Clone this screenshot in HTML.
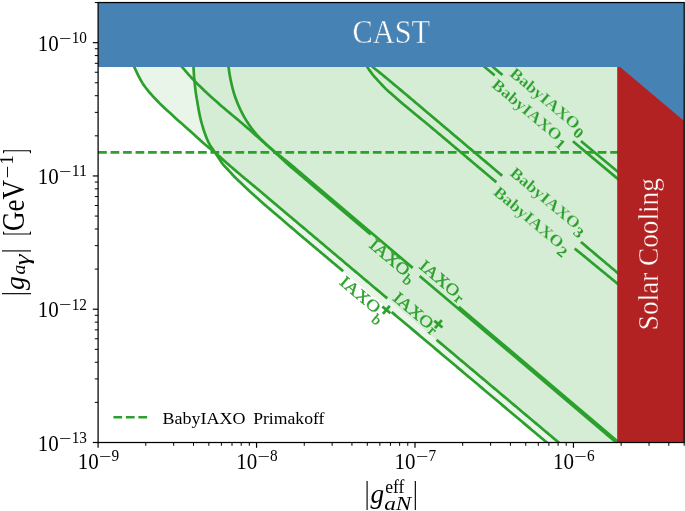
<!DOCTYPE html>
<html lang="en"><head><meta charset="utf-8"><title>plot</title>
<style>html,body{margin:0;padding:0;background:#fff;overflow:hidden}svg{display:block}</style></head>
<body>
<svg width="685" height="511" viewBox="0 0 685 511">
<rect width="685" height="511" fill="#ffffff"/>
<defs><clipPath id="ax"><rect x="98.1" y="2.55" width="586.1" height="439.95"/></clipPath></defs>
<g clip-path="url(#ax)">
<path d="M133.20 64.50 L133.30 64.74 L133.39 64.95 L133.47 65.15 L133.56 65.36 L133.65 65.59 L133.77 65.86 L133.92 66.19 L134.10 66.60 L134.32 67.10 L134.58 67.67 L134.87 68.30 L135.18 68.97 L135.50 69.67 L135.83 70.39 L136.17 71.10 L136.50 71.80 L136.83 72.49 L137.16 73.18 L137.50 73.87 L137.84 74.58 L138.20 75.30 L138.58 76.04 L138.98 76.81 L139.40 77.60 L139.84 78.42 L140.30 79.27 L140.77 80.15 L141.26 81.04 L141.78 81.94 L142.32 82.86 L142.89 83.78 L143.50 84.70 L144.14 85.63 L144.82 86.56 L145.53 87.51 L146.27 88.46 L147.03 89.42 L147.81 90.38 L148.60 91.34 L149.40 92.30 L150.21 93.25 L151.04 94.21 L151.89 95.16 L152.75 96.11 L153.63 97.07 L154.53 98.04 L155.46 99.01 L156.40 100.00 L157.38 101.01 L158.41 102.06 L159.47 103.12 L160.55 104.18 L161.63 105.23 L162.69 106.26 L163.72 107.26 L164.70 108.20 L165.64 109.09 L166.57 109.95 L167.47 110.78 L168.35 111.57 L169.21 112.35 L170.06 113.11 L170.89 113.86 L171.70 114.60 L172.50 115.33 L173.29 116.06 L174.06 116.77 L174.81 117.46 L175.55 118.14 L176.26 118.79 L176.94 119.41 L177.60 120.00 L178.17 120.51 L178.64 120.91 L179.05 121.26 L179.45 121.59 L179.90 121.97 L180.44 122.43 L181.12 123.02 L182.00 123.80 L183.10 124.77 L184.37 125.91 L185.78 127.17 L187.29 128.53 L188.85 129.93 L190.44 131.35 L192.00 132.75 L193.50 134.10 L194.98 135.43 L196.48 136.79 L198.00 138.18 L199.51 139.56 L201.02 140.92 L202.49 142.24 L203.92 143.51 L205.30 144.70 L206.63 145.82 L207.94 146.89 L209.22 147.91 L210.47 148.88 L211.67 149.83 L212.83 150.74 L213.94 151.63 L215.00 152.50 L215.98 153.34 L216.89 154.14 L217.75 154.90 L218.56 155.63 L219.35 156.36 L220.13 157.08 L220.93 157.81 L221.75 158.55 L222.59 159.30 L223.42 160.05 L224.24 160.80 L225.07 161.55 L225.90 162.30 L226.75 163.06 L227.61 163.82 L228.50 164.60 L229.41 165.39 L230.35 166.19 L231.30 167.00 L232.27 167.82 L233.24 168.64 L234.22 169.46 L235.19 170.28 L236.15 171.10 L237.10 171.91 L238.06 172.72 L239.01 173.53 L239.96 174.34 L240.91 175.16 L241.87 175.97 L242.83 176.78 L243.80 177.60 L244.78 178.42 L245.77 179.24 L246.76 180.07 L247.76 180.89 L248.76 181.72 L249.76 182.55 L250.75 183.37 L251.75 184.20 L252.74 185.02 L253.73 185.84 L254.72 186.66 L255.70 187.47 L256.69 188.29 L257.69 189.12 L258.69 189.95 L259.70 190.80 L260.72 191.66 L261.75 192.53 L262.79 193.41 L263.83 194.30 L264.87 195.19 L265.92 196.08 L266.96 196.97 L268.00 197.85 L269.04 198.73 L270.07 199.61 L271.10 200.49 L272.13 201.37 L273.17 202.25 L274.21 203.13 L275.25 204.01 L276.30 204.90 L277.36 205.79 L278.42 206.69 L279.49 207.59 L280.56 208.49 L281.63 209.39 L282.71 210.30 L283.78 211.20 L284.85 212.10 L285.90 212.98 L286.92 213.85 L287.93 214.70 L288.95 215.55 L289.99 216.43 L291.07 217.34 L292.20 218.29 L293.40 219.30 L294.68 220.38 L296.04 221.52 L297.44 222.71 L298.89 223.92 L300.35 225.16 L301.83 226.40 L303.29 227.63 L304.72 228.84 L306.13 230.03 L307.55 231.22 L308.96 232.42 L310.38 233.61 L311.79 234.80 L313.21 235.99 L314.62 237.19 L316.04 238.38 L317.45 239.57 L318.87 240.76 L320.28 241.96 L321.70 243.15 L323.12 244.34 L324.53 245.54 L325.94 246.73 L327.36 247.92 L328.78 249.11 L330.19 250.31 L331.61 251.50 L333.02 252.69 L334.43 253.88 L335.85 255.07 L337.26 256.27 L338.68 257.46 L340.09 258.65 L341.50 259.84 L342.91 261.03 L344.32 262.22 L345.74 263.41 L347.15 264.60 L348.57 265.80 L350.00 267.00 L351.43 268.21 L352.87 269.42 L354.32 270.63 L355.77 271.85 L357.22 273.07 L358.67 274.29 L360.12 275.51 L361.57 276.73 L363.01 277.94 L364.46 279.16 L365.90 280.38 L367.35 281.59 L368.80 282.81 L370.24 284.02 L371.69 285.24 L373.13 286.46 L374.58 287.67 L376.02 288.89 L377.47 290.10 L378.92 291.32 L380.36 292.54 L381.81 293.75 L383.25 294.97 L384.70 296.18 L386.15 297.40 L387.59 298.62 L389.04 299.83 L390.48 301.05 L391.93 302.26 L393.37 303.48 L394.82 304.70 L396.27 305.91 L397.71 307.13 L399.16 308.34 L400.60 309.56 L402.05 310.77 L403.50 311.99 L404.94 313.21 L406.39 314.42 L407.83 315.64 L409.28 316.85 L410.73 318.07 L412.17 319.29 L413.62 320.50 L415.06 321.72 L416.51 322.93 L417.95 324.15 L419.40 325.37 L420.85 326.58 L422.29 327.80 L423.74 329.01 L425.18 330.23 L426.63 331.45 L428.08 332.66 L429.52 333.88 L430.97 335.09 L432.41 336.31 L433.86 337.53 L435.30 338.74 L436.75 339.96 L438.20 341.17 L439.64 342.39 L441.09 343.61 L442.53 344.82 L443.98 346.04 L445.43 347.25 L446.87 348.47 L448.32 349.69 L449.76 350.90 L451.21 352.12 L452.65 353.33 L454.10 354.55 L455.55 355.77 L456.99 356.98 L458.44 358.20 L459.88 359.41 L461.33 360.63 L462.78 361.85 L464.22 363.06 L465.67 364.28 L467.11 365.49 L468.56 366.71 L470.00 367.93 L471.45 369.14 L472.90 370.36 L474.34 371.57 L475.79 372.79 L477.23 374.01 L478.68 375.22 L480.12 376.44 L481.57 377.65 L483.02 378.87 L484.46 380.09 L485.91 381.30 L487.35 382.52 L488.80 383.73 L490.25 384.95 L491.69 386.17 L493.14 387.38 L494.58 388.60 L496.03 389.81 L497.48 391.03 L498.92 392.25 L500.37 393.46 L501.81 394.68 L503.26 395.89 L504.70 397.11 L506.15 398.32 L507.60 399.54 L509.04 400.76 L510.49 401.97 L511.93 403.19 L513.38 404.40 L514.83 405.62 L516.27 406.84 L517.72 408.05 L519.16 409.27 L520.61 410.48 L522.05 411.70 L523.50 412.92 L524.95 414.13 L526.39 415.35 L527.84 416.56 L529.28 417.78 L530.73 419.00 L532.17 420.21 L533.62 421.43 L535.07 422.64 L536.51 423.86 L537.96 425.08 L539.40 426.29 L540.85 427.51 L542.30 428.72 L543.74 429.94 L545.19 431.16 L546.63 432.37 L548.13 433.63 L549.71 434.96 L551.31 436.31 L552.90 437.64 L554.43 438.93 L555.85 440.13 L557.13 441.20 L558.20 442.10 L559.05 442.81 L559.70 443.36 L560.19 443.78 L560.59 444.11 L560.92 444.39 L561.23 444.65 L561.58 444.94 L562.00 445.30 L619.20 446.00 L619.20 60.00Z" fill="#2ca02c" fill-opacity="0.1"/>
<path d="M193.45 64.00 L193.45 64.29 L193.45 64.54 L193.45 64.76 L193.45 65.00 L193.46 65.27 L193.46 65.61 L193.48 66.05 L193.50 66.60 L193.53 67.30 L193.57 68.15 L193.62 69.08 L193.67 70.09 L193.73 71.12 L193.78 72.14 L193.84 73.11 L193.90 74.00 L193.96 74.80 L194.01 75.55 L194.07 76.26 L194.12 76.96 L194.19 77.67 L194.25 78.39 L194.32 79.16 L194.40 80.00 L194.48 80.91 L194.57 81.88 L194.67 82.88 L194.77 83.92 L194.87 84.96 L194.98 86.00 L195.09 87.02 L195.20 88.00 L195.32 88.96 L195.44 89.91 L195.56 90.85 L195.69 91.79 L195.82 92.70 L195.95 93.60 L196.07 94.46 L196.20 95.30 L196.32 96.08 L196.44 96.80 L196.56 97.47 L196.67 98.14 L196.80 98.81 L196.92 99.51 L197.06 100.27 L197.20 101.10 L197.35 102.01 L197.51 102.96 L197.66 103.95 L197.83 104.98 L198.01 106.05 L198.19 107.14 L198.39 108.26 L198.60 109.40 L198.82 110.57 L199.05 111.76 L199.28 112.99 L199.52 114.24 L199.79 115.52 L200.07 116.82 L200.37 118.15 L200.70 119.50 L201.05 120.89 L201.43 122.31 L201.82 123.77 L202.24 125.25 L202.67 126.74 L203.13 128.24 L203.60 129.73 L204.10 131.20 L204.62 132.68 L205.15 134.17 L205.70 135.68 L206.27 137.18 L206.87 138.67 L207.49 140.12 L208.13 141.54 L208.80 142.90 L209.49 144.19 L210.21 145.41 L210.95 146.58 L211.72 147.73 L212.51 148.87 L213.32 150.03 L214.15 151.23 L215.00 152.50 L215.89 153.86 L216.84 155.32 L217.82 156.83 L218.82 158.35 L219.81 159.84 L220.79 161.28 L221.72 162.61 L222.60 163.80 L223.42 164.84 L224.19 165.75 L224.94 166.57 L225.66 167.33 L226.36 168.04 L227.06 168.75 L227.77 169.48 L228.50 170.25 L229.23 171.05 L229.95 171.86 L230.66 172.66 L231.38 173.46 L232.10 174.26 L232.84 175.07 L233.61 175.88 L234.40 176.70 L235.23 177.53 L236.08 178.37 L236.96 179.21 L237.85 180.06 L238.76 180.91 L239.66 181.76 L240.56 182.60 L241.45 183.45 L242.33 184.29 L243.19 185.13 L244.06 185.97 L244.93 186.81 L245.80 187.65 L246.68 188.49 L247.58 189.34 L248.50 190.20 L249.44 191.06 L250.40 191.93 L251.37 192.81 L252.35 193.68 L253.34 194.56 L254.33 195.44 L255.32 196.32 L256.30 197.20 L257.27 198.07 L258.23 198.94 L259.18 199.80 L260.13 200.67 L261.10 201.53 L262.08 202.41 L263.07 203.30 L264.10 204.20 L265.16 205.12 L266.24 206.05 L267.34 206.99 L268.46 207.94 L269.59 208.89 L270.71 209.85 L271.84 210.80 L272.95 211.75 L274.05 212.69 L275.16 213.63 L276.26 214.57 L277.36 215.51 L278.46 216.45 L279.57 217.39 L280.68 218.34 L281.80 219.30 L282.93 220.27 L284.07 221.24 L285.21 222.22 L286.36 223.21 L287.51 224.19 L288.66 225.18 L289.80 226.17 L290.95 227.15 L292.09 228.13 L293.21 229.09 L294.33 230.06 L295.45 231.02 L296.58 231.99 L297.73 232.98 L298.90 233.98 L300.10 235.00 L301.34 236.05 L302.60 237.12 L303.89 238.20 L305.20 239.30 L306.52 240.40 L307.83 241.51 L309.15 242.61 L310.45 243.70 L311.74 244.79 L313.04 245.88 L314.33 246.96 L315.63 248.05 L316.92 249.14 L318.21 250.22 L319.51 251.31 L320.80 252.40 L322.09 253.49 L323.39 254.58 L324.68 255.66 L325.98 256.75 L327.27 257.84 L328.56 258.93 L329.86 260.01 L331.15 261.10 L332.43 262.18 L333.70 263.24 L334.96 264.30 L336.22 265.36 L337.49 266.43 L338.79 267.52 L340.13 268.64 L341.50 269.80 L342.92 271.00 L344.39 272.23 L345.89 273.50 L347.42 274.78 L348.95 276.07 L350.50 277.37 L352.03 278.66 L353.55 279.94 L355.05 281.20 L356.56 282.47 L358.06 283.74 L359.57 285.00 L361.08 286.27 L362.58 287.54 L364.09 288.80 L365.59 290.07 L367.10 291.34 L368.61 292.60 L370.11 293.87 L371.62 295.14 L373.12 296.41 L374.63 297.67 L376.14 298.94 L377.64 300.21 L379.15 301.47 L380.65 302.74 L382.16 304.01 L383.66 305.27 L385.17 306.54 L386.68 307.81 L388.18 309.07 L389.69 310.34 L391.19 311.61 L392.70 312.88 L394.21 314.14 L395.71 315.41 L397.22 316.68 L398.72 317.94 L400.23 319.21 L401.74 320.48 L403.24 321.74 L404.75 323.01 L406.25 324.28 L407.76 325.54 L409.26 326.81 L410.77 328.08 L412.28 329.34 L413.78 330.61 L415.29 331.88 L416.79 333.15 L418.30 334.41 L419.81 335.68 L421.31 336.95 L422.82 338.21 L424.32 339.48 L425.83 340.75 L427.34 342.01 L428.84 343.28 L430.35 344.55 L431.85 345.81 L433.36 347.08 L434.86 348.35 L436.37 349.62 L437.88 350.88 L439.38 352.15 L440.89 353.42 L442.39 354.68 L443.90 355.95 L445.41 357.22 L446.91 358.48 L448.42 359.75 L449.92 361.02 L451.43 362.28 L452.94 363.55 L454.44 364.82 L455.95 366.09 L457.45 367.35 L458.96 368.62 L460.46 369.89 L461.97 371.15 L463.48 372.42 L464.98 373.69 L466.49 374.95 L467.99 376.22 L469.50 377.49 L471.01 378.75 L472.51 380.02 L474.02 381.29 L475.52 382.56 L477.03 383.82 L478.54 385.09 L480.04 386.36 L481.55 387.62 L483.05 388.89 L484.56 390.16 L486.06 391.42 L487.57 392.69 L489.08 393.96 L490.58 395.22 L492.09 396.49 L493.59 397.76 L495.10 399.02 L496.61 400.29 L498.11 401.56 L499.62 402.83 L501.12 404.09 L502.63 405.36 L504.14 406.63 L505.64 407.89 L507.15 409.16 L508.65 410.43 L510.16 411.69 L511.66 412.96 L513.17 414.23 L514.68 415.49 L516.18 416.76 L517.69 418.03 L519.19 419.30 L520.70 420.56 L522.21 421.83 L523.71 423.10 L525.22 424.36 L526.72 425.63 L528.23 426.90 L529.74 428.16 L531.24 429.43 L532.75 430.70 L534.25 431.96 L535.82 433.28 L537.46 434.66 L539.14 436.07 L540.80 437.47 L542.39 438.81 L543.88 440.06 L545.19 441.17 L546.30 442.10 L547.16 442.82 L547.81 443.37 L548.30 443.78 L548.67 444.09 L548.98 444.35 L549.27 444.59 L549.59 444.86 L550.00 445.20 L619.20 446.00 L619.20 60.00Z" fill="#2ca02c" fill-opacity="0.1"/>
<path d="M133.20 64.50 L133.30 64.74 L133.39 64.95 L133.47 65.15 L133.56 65.36 L133.65 65.59 L133.77 65.86 L133.92 66.19 L134.10 66.60 L134.32 67.10 L134.58 67.67 L134.87 68.30 L135.18 68.97 L135.50 69.67 L135.83 70.39 L136.17 71.10 L136.50 71.80 L136.83 72.49 L137.16 73.18 L137.50 73.87 L137.84 74.58 L138.20 75.30 L138.58 76.04 L138.98 76.81 L139.40 77.60 L139.84 78.42 L140.30 79.27 L140.77 80.15 L141.26 81.04 L141.78 81.94 L142.32 82.86 L142.89 83.78 L143.50 84.70 L144.14 85.63 L144.82 86.56 L145.53 87.51 L146.27 88.46 L147.03 89.42 L147.81 90.38 L148.60 91.34 L149.40 92.30 L150.21 93.25 L151.04 94.21 L151.89 95.16 L152.75 96.11 L153.63 97.07 L154.53 98.04 L155.46 99.01 L156.40 100.00 L157.38 101.01 L158.41 102.06 L159.47 103.12 L160.55 104.18 L161.63 105.23 L162.69 106.26 L163.72 107.26 L164.70 108.20 L165.64 109.09 L166.57 109.95 L167.47 110.78 L168.35 111.57 L169.21 112.35 L170.06 113.11 L170.89 113.86 L171.70 114.60 L172.50 115.33 L173.29 116.06 L174.06 116.77 L174.81 117.46 L175.55 118.14 L176.26 118.79 L176.94 119.41 L177.60 120.00 L178.17 120.51 L178.64 120.91 L179.05 121.26 L179.45 121.59 L179.90 121.97 L180.44 122.43 L181.12 123.02 L182.00 123.80 L183.10 124.77 L184.37 125.91 L185.78 127.17 L187.29 128.53 L188.85 129.93 L190.44 131.35 L192.00 132.75 L193.50 134.10 L194.98 135.43 L196.48 136.79 L198.00 138.18 L199.51 139.56 L201.02 140.92 L202.49 142.24 L203.92 143.51 L205.30 144.70 L206.63 145.82 L207.94 146.89 L209.22 147.91 L210.47 148.88 L211.67 149.83 L212.83 150.74 L213.94 151.63 L215.00 152.50 L215.98 153.34 L216.89 154.14 L217.75 154.90 L218.56 155.63 L219.35 156.36 L220.13 157.08 L220.93 157.81 L221.75 158.55 L222.59 159.30 L223.42 160.05 L224.24 160.80 L225.07 161.55 L225.90 162.30 L226.75 163.06 L227.61 163.82 L228.50 164.60 L229.41 165.39 L230.35 166.19 L231.30 167.00 L232.27 167.82 L233.24 168.64 L234.22 169.46 L235.19 170.28 L236.15 171.10 L237.10 171.91 L238.06 172.72 L239.01 173.53 L239.96 174.34 L240.91 175.16 L241.87 175.97 L242.83 176.78 L243.80 177.60 L244.78 178.42 L245.77 179.24 L246.76 180.07 L247.76 180.89 L248.76 181.72 L249.76 182.55 L250.75 183.37 L251.75 184.20 L252.74 185.02 L253.73 185.84 L254.72 186.66 L255.70 187.47 L256.69 188.29 L257.69 189.12 L258.69 189.95 L259.70 190.80 L260.72 191.66 L261.75 192.53 L262.79 193.41 L263.83 194.30 L264.87 195.19 L265.92 196.08 L266.96 196.97 L268.00 197.85 L269.04 198.73 L270.07 199.61 L271.10 200.49 L272.13 201.37 L273.17 202.25 L274.21 203.13 L275.25 204.01 L276.30 204.90 L277.36 205.79 L278.42 206.69 L279.49 207.59 L280.56 208.49 L281.63 209.39 L282.71 210.30 L283.78 211.20 L284.85 212.10 L285.90 212.98 L286.92 213.85 L287.93 214.70 L288.95 215.55 L289.99 216.43 L291.07 217.34 L292.20 218.29 L293.40 219.30 L294.68 220.38 L296.04 221.52 L297.44 222.71 L298.89 223.92 L300.35 225.16 L301.83 226.40 L303.29 227.63 L304.72 228.84 L306.13 230.03 L307.55 231.22 L308.96 232.42 L310.38 233.61 L311.79 234.80 L313.21 235.99 L314.62 237.19 L316.04 238.38 L317.45 239.57 L318.87 240.76 L320.28 241.96 L321.70 243.15 L323.12 244.34 L324.53 245.54 L325.94 246.73 L327.36 247.92 L328.78 249.11 L330.19 250.31 L331.61 251.50 L333.02 252.69 L334.43 253.88 L335.85 255.07 L337.26 256.27 L338.68 257.46 L340.09 258.65 L341.50 259.84 L342.91 261.03 L344.32 262.22 L345.74 263.41 L347.15 264.60 L348.57 265.80 L350.00 267.00 L351.43 268.21 L352.87 269.42 L354.32 270.63 L355.77 271.85 L357.22 273.07 L358.67 274.29 L360.12 275.51 L361.57 276.73 L363.01 277.94 L364.46 279.16 L365.90 280.38 L367.35 281.59 L368.80 282.81 L370.24 284.02 L371.69 285.24 L373.13 286.46 L374.58 287.67 L376.02 288.89 L377.47 290.10 L378.92 291.32 L380.36 292.54 L381.81 293.75 L383.25 294.97 L384.70 296.18 L386.15 297.40 L387.30 298.37" fill="none" stroke="#2ca02c" stroke-width="2.7" stroke-linejoin="round" />
<path d="M436.60 339.83 L436.75 339.96 L438.20 341.17 L439.64 342.39 L441.09 343.61 L442.53 344.82 L443.98 346.04 L445.43 347.25 L446.87 348.47 L448.32 349.69 L449.76 350.90 L451.21 352.12 L452.65 353.33 L454.10 354.55 L455.55 355.77 L456.99 356.98 L458.44 358.20 L459.88 359.41 L461.33 360.63 L462.78 361.85 L464.22 363.06 L465.67 364.28 L467.11 365.49 L468.56 366.71 L470.00 367.93 L471.45 369.14 L472.90 370.36 L474.34 371.57 L475.79 372.79 L477.23 374.01 L478.68 375.22 L480.12 376.44 L481.57 377.65 L483.02 378.87 L484.46 380.09 L485.91 381.30 L487.35 382.52 L488.80 383.73 L490.25 384.95 L491.69 386.17 L493.14 387.38 L494.58 388.60 L496.03 389.81 L497.48 391.03 L498.92 392.25 L500.37 393.46 L501.81 394.68 L503.26 395.89 L504.70 397.11 L506.15 398.32 L507.60 399.54 L509.04 400.76 L510.49 401.97 L511.93 403.19 L513.38 404.40 L514.83 405.62 L516.27 406.84 L517.72 408.05 L519.16 409.27 L520.61 410.48 L522.05 411.70 L523.50 412.92 L524.95 414.13 L526.39 415.35 L527.84 416.56 L529.28 417.78 L530.73 419.00 L532.17 420.21 L533.62 421.43 L535.07 422.64 L536.51 423.86 L537.96 425.08 L539.40 426.29 L540.85 427.51 L542.30 428.72 L543.74 429.94 L545.19 431.16 L546.63 432.37 L548.13 433.63 L549.71 434.96 L551.31 436.31 L552.90 437.64 L554.43 438.93 L555.85 440.13 L557.13 441.20 L558.20 442.10 L559.05 442.81 L559.70 443.36 L560.19 443.78 L560.59 444.11 L560.92 444.39 L561.23 444.65 L561.58 444.94 L562.00 445.30" fill="none" stroke="#2ca02c" stroke-width="2.7" stroke-linejoin="round" />
<path d="M193.45 64.00 L193.45 64.29 L193.45 64.54 L193.45 64.76 L193.45 65.00 L193.46 65.27 L193.46 65.61 L193.48 66.05 L193.50 66.60 L193.53 67.30 L193.57 68.15 L193.62 69.08 L193.67 70.09 L193.73 71.12 L193.78 72.14 L193.84 73.11 L193.90 74.00 L193.96 74.80 L194.01 75.55 L194.07 76.26 L194.12 76.96 L194.19 77.67 L194.25 78.39 L194.32 79.16 L194.40 80.00 L194.48 80.91 L194.57 81.88 L194.67 82.88 L194.77 83.92 L194.87 84.96 L194.98 86.00 L195.09 87.02 L195.20 88.00 L195.32 88.96 L195.44 89.91 L195.56 90.85 L195.69 91.79 L195.82 92.70 L195.95 93.60 L196.07 94.46 L196.20 95.30 L196.32 96.08 L196.44 96.80 L196.56 97.47 L196.67 98.14 L196.80 98.81 L196.92 99.51 L197.06 100.27 L197.20 101.10 L197.35 102.01 L197.51 102.96 L197.66 103.95 L197.83 104.98 L198.01 106.05 L198.19 107.14 L198.39 108.26 L198.60 109.40 L198.82 110.57 L199.05 111.76 L199.28 112.99 L199.52 114.24 L199.79 115.52 L200.07 116.82 L200.37 118.15 L200.70 119.50 L201.05 120.89 L201.43 122.31 L201.82 123.77 L202.24 125.25 L202.67 126.74 L203.13 128.24 L203.60 129.73 L204.10 131.20 L204.62 132.68 L205.15 134.17 L205.70 135.68 L206.27 137.18 L206.87 138.67 L207.49 140.12 L208.13 141.54 L208.80 142.90 L209.49 144.19 L210.21 145.41 L210.95 146.58 L211.72 147.73 L212.51 148.87 L213.32 150.03 L214.15 151.23 L215.00 152.50 L215.89 153.86 L216.84 155.32 L217.82 156.83 L218.82 158.35 L219.81 159.84 L220.79 161.28 L221.72 162.61 L222.60 163.80 L223.42 164.84 L224.19 165.75 L224.94 166.57 L225.66 167.33 L226.36 168.04 L227.06 168.75 L227.77 169.48 L228.50 170.25 L229.23 171.05 L229.95 171.86 L230.66 172.66 L231.38 173.46 L232.10 174.26 L232.84 175.07 L233.61 175.88 L234.40 176.70 L235.23 177.53 L236.08 178.37 L236.96 179.21 L237.85 180.06 L238.76 180.91 L239.66 181.76 L240.56 182.60 L241.45 183.45 L242.33 184.29 L243.19 185.13 L244.06 185.97 L244.93 186.81 L245.80 187.65 L246.68 188.49 L247.58 189.34 L248.50 190.20 L249.44 191.06 L250.40 191.93 L251.37 192.81 L252.35 193.68 L253.34 194.56 L254.33 195.44 L255.32 196.32 L256.30 197.20 L257.27 198.07 L258.23 198.94 L259.18 199.80 L260.13 200.67 L261.10 201.53 L262.08 202.41 L263.07 203.30 L264.10 204.20 L265.16 205.12 L266.24 206.05 L267.34 206.99 L268.46 207.94 L269.59 208.89 L270.71 209.85 L271.84 210.80 L272.95 211.75 L274.05 212.69 L275.16 213.63 L276.26 214.57 L277.36 215.51 L278.46 216.45 L279.57 217.39 L280.68 218.34 L281.80 219.30 L282.93 220.27 L284.07 221.24 L285.21 222.22 L286.36 223.21 L287.51 224.19 L288.66 225.18 L289.80 226.17 L290.95 227.15 L292.09 228.13 L293.21 229.09 L294.33 230.06 L295.45 231.02 L296.58 231.99 L297.73 232.98 L298.90 233.98 L300.10 235.00 L301.34 236.05 L302.60 237.12 L303.89 238.20 L305.20 239.30 L306.52 240.40 L307.83 241.51 L309.15 242.61 L310.45 243.70 L311.74 244.79 L313.04 245.88 L314.33 246.96 L315.63 248.05 L316.92 249.14 L318.21 250.22 L319.51 251.31 L320.80 252.40 L322.09 253.49 L323.39 254.58 L324.68 255.66 L325.98 256.75 L327.27 257.84 L328.56 258.93 L329.86 260.01 L331.15 261.10 L332.43 262.18 L333.70 263.24 L334.96 264.30 L336.22 265.36 L337.49 266.43 L338.79 267.52 L340.13 268.64 L341.50 269.80 L342.92 271.00 L343.20 271.23" fill="none" stroke="#2ca02c" stroke-width="2.7" stroke-linejoin="round" />
<path d="M391.70 312.03 L392.70 312.88 L394.21 314.14 L395.71 315.41 L397.22 316.68 L398.72 317.94 L400.23 319.21 L401.74 320.48 L403.24 321.74 L404.75 323.01 L406.25 324.28 L407.76 325.54 L409.26 326.81 L410.77 328.08 L412.28 329.34 L413.78 330.61 L415.29 331.88 L416.79 333.15 L418.30 334.41 L419.81 335.68 L421.31 336.95 L422.82 338.21 L424.32 339.48 L425.83 340.75 L427.34 342.01 L428.84 343.28 L430.35 344.55 L431.85 345.81 L433.36 347.08 L434.86 348.35 L436.37 349.62 L437.88 350.88 L439.38 352.15 L440.89 353.42 L442.39 354.68 L443.90 355.95 L445.41 357.22 L446.91 358.48 L448.42 359.75 L449.92 361.02 L451.43 362.28 L452.94 363.55 L454.44 364.82 L455.95 366.09 L457.45 367.35 L458.96 368.62 L460.46 369.89 L461.97 371.15 L463.48 372.42 L464.98 373.69 L466.49 374.95 L467.99 376.22 L469.50 377.49 L471.01 378.75 L472.51 380.02 L474.02 381.29 L475.52 382.56 L477.03 383.82 L478.54 385.09 L480.04 386.36 L481.55 387.62 L483.05 388.89 L484.56 390.16 L486.06 391.42 L487.57 392.69 L489.08 393.96 L490.58 395.22 L492.09 396.49 L493.59 397.76 L495.10 399.02 L496.61 400.29 L498.11 401.56 L499.62 402.83 L501.12 404.09 L502.63 405.36 L504.14 406.63 L505.64 407.89 L507.15 409.16 L508.65 410.43 L510.16 411.69 L511.66 412.96 L513.17 414.23 L514.68 415.49 L516.18 416.76 L517.69 418.03 L519.19 419.30 L520.70 420.56 L522.21 421.83 L523.71 423.10 L525.22 424.36 L526.72 425.63 L528.23 426.90 L529.74 428.16 L531.24 429.43 L532.75 430.70 L534.25 431.96 L535.82 433.28 L537.46 434.66 L539.14 436.07 L540.80 437.47 L542.39 438.81 L543.88 440.06 L545.19 441.17 L546.30 442.10 L547.16 442.82 L547.81 443.37 L548.30 443.78 L548.67 444.09 L548.98 444.35 L549.27 444.59 L549.59 444.86 L550.00 445.20" fill="none" stroke="#2ca02c" stroke-width="2.7" stroke-linejoin="round" />
<path d="M179.50 64.00 L179.77 64.32 L180.02 64.62 L180.28 64.92 L180.53 65.22 L180.79 65.54 L181.07 65.87 L181.37 66.22 L181.70 66.60 L182.06 67.02 L182.45 67.47 L182.86 67.94 L183.29 68.43 L183.72 68.93 L184.16 69.43 L184.58 69.92 L185.00 70.40 L185.38 70.85 L185.74 71.26 L186.08 71.66 L186.42 72.07 L186.78 72.50 L187.19 72.97 L187.66 73.49 L188.20 74.10 L188.84 74.80 L189.55 75.59 L190.33 76.44 L191.15 77.33 L191.99 78.24 L192.82 79.13 L193.63 79.99 L194.40 80.80 L195.11 81.54 L195.77 82.22 L196.42 82.87 L197.06 83.51 L197.71 84.17 L198.41 84.85 L199.17 85.59 L200.00 86.40 L200.93 87.31 L201.96 88.29 L203.04 89.34 L204.16 90.41 L205.29 91.49 L206.41 92.55 L207.49 93.56 L208.50 94.50 L209.45 95.37 L210.36 96.19 L211.25 96.98 L212.12 97.74 L212.97 98.49 L213.82 99.23 L214.68 99.98 L215.55 100.75 L216.43 101.53 L217.30 102.31 L218.17 103.09 L219.04 103.87 L219.91 104.65 L220.80 105.43 L221.69 106.21 L222.60 107.00 L223.53 107.79 L224.47 108.59 L225.42 109.39 L226.39 110.19 L227.35 110.99 L228.32 111.80 L229.29 112.60 L230.25 113.40 L231.19 114.18 L232.10 114.94 L233.00 115.69 L233.90 116.44 L234.83 117.22 L235.79 118.02 L236.81 118.88 L237.90 119.80 L239.10 120.81 L240.40 121.92 L241.77 123.09 L243.17 124.29 L244.56 125.48 L245.91 126.64 L247.17 127.72 L248.30 128.70 L249.30 129.57 L250.20 130.36 L251.02 131.09 L251.79 131.77 L252.53 132.43 L253.27 133.09 L254.01 133.75 L254.80 134.45 L255.61 135.17 L256.43 135.89 L257.24 136.61 L258.06 137.33 L258.87 138.05 L259.69 138.77 L260.49 139.49 L261.30 140.20 L262.10 140.91 L262.90 141.62 L263.69 142.33 L264.48 143.03 L265.28 143.74 L266.07 144.44 L266.86 145.14 L267.65 145.85 L268.43 146.55 L269.21 147.23 L269.97 147.91 L270.74 148.59 L271.52 149.28 L272.32 149.99 L273.14 150.73 L274.00 151.50 L274.90 152.32 L275.83 153.17 L276.80 154.05 L277.78 154.95 L278.77 155.86 L279.76 156.78 L280.75 157.69 L281.73 158.58 L282.68 159.46 L283.60 160.32 L284.52 161.18 L285.45 162.04 L286.39 162.91 L287.36 163.80 L288.38 164.71 L289.45 165.66 L290.59 166.66 L291.79 167.68 L293.03 168.74 L294.31 169.81 L295.60 170.90 L296.90 171.99 L298.19 173.07 L299.45 174.14 L300.70 175.20 L301.95 176.25 L303.20 177.31 L304.45 178.37 L305.70 179.43 L306.95 180.49 L308.20 181.55 L309.45 182.61 L370.70 234.50" fill="none" stroke="#2ca02c" stroke-width="2.7" stroke-linejoin="round" />
<path d="M419.60 275.92 L624.45 449.47" fill="none" stroke="#2ca02c" stroke-width="2.7" stroke-linejoin="round" />
<path d="M228.30 64.00 L228.31 64.27 L228.31 64.45 L228.31 64.61 L228.31 64.78 L228.32 65.01 L228.34 65.36 L228.40 65.87 L228.50 66.60 L228.63 67.56 L228.79 68.71 L228.97 70.02 L229.18 71.45 L229.40 72.96 L229.65 74.51 L229.92 76.07 L230.20 77.60 L230.51 79.15 L230.85 80.77 L231.21 82.44 L231.59 84.13 L231.98 85.82 L232.38 87.48 L232.79 89.08 L233.20 90.60 L233.61 92.03 L234.01 93.40 L234.42 94.72 L234.84 96.00 L235.28 97.27 L235.73 98.53 L236.20 99.80 L236.70 101.10 L237.23 102.44 L237.79 103.80 L238.38 105.17 L238.98 106.54 L239.59 107.89 L240.20 109.21 L240.81 110.48 L241.40 111.70 L241.97 112.84 L242.52 113.91 L243.06 114.94 L243.60 115.93 L244.15 116.92 L244.73 117.91 L245.34 118.93 L246.00 120.00 L246.70 121.12 L247.45 122.29 L248.22 123.48 L249.02 124.68 L249.83 125.87 L250.66 127.05 L251.48 128.20 L252.30 129.30 L253.12 130.36 L253.94 131.40 L254.77 132.41 L255.61 133.41 L256.45 134.38 L257.29 135.34 L258.15 136.27 L259.00 137.20 L259.85 138.09 L260.68 138.95 L261.52 139.78 L262.36 140.59 L263.22 141.41 L264.10 142.24 L265.03 143.10 L266.00 144.00 L267.04 144.95 L268.14 145.96 L269.28 146.99 L270.45 148.04 L271.63 149.08 L272.79 150.10 L273.92 151.08 L275.00 152.00 L276.03 152.86 L277.03 153.67 L278.01 154.45 L278.96 155.21 L279.91 155.94 L280.86 156.68 L281.81 157.42 L282.77 158.18 L283.73 158.94 L284.67 159.68 L285.59 160.40 L286.52 161.13 L287.47 161.88 L288.45 162.66 L289.47 163.48 L290.55 164.37 L291.69 165.32 L292.89 166.32 L294.14 167.38 L295.41 168.46 L296.70 169.56 L298.00 170.67 L299.28 171.76 L300.55 172.84 L301.80 173.90 L303.05 174.96 L304.30 176.02 L305.55 177.08 L306.80 178.13 L308.05 179.19 L309.30 180.25 L310.55 181.31 L412.70 267.85" fill="none" stroke="#2ca02c" stroke-width="2.7" stroke-linejoin="round" />
<path d="M458.70 306.82 L625.55 448.17" fill="none" stroke="#2ca02c" stroke-width="2.7" stroke-linejoin="round" />
<path d="M370.00 64.50 L370.32 64.78 L370.60 65.03 L370.85 65.27 L371.12 65.51 L371.42 65.78 L371.79 66.09 L372.24 66.48 L372.80 66.95 L373.49 67.52 L374.30 68.19 L375.19 68.92 L376.15 69.70 L377.14 70.50 L378.13 71.31 L379.11 72.11 L380.05 72.88 L380.94 73.60 L381.80 74.30 L382.65 74.99 L383.51 75.69 L384.39 76.41 L385.30 77.16 L386.27 77.95 L387.30 78.80 L388.41 79.72 L389.58 80.70 L390.80 81.72 L392.06 82.78 L393.34 83.85 L394.63 84.93 L395.90 86.00 L397.15 87.05 L398.38 88.08 L399.61 89.11 L400.84 90.13 L402.07 91.16 L403.30 92.19 L404.53 93.22 L405.76 94.26 L407.00 95.30 L408.24 96.35 L409.49 97.40 L410.74 98.45 L411.99 99.51 L413.24 100.57 L414.50 101.63 L415.75 102.69 L417.00 103.75 L418.26 104.81 L419.54 105.89 L420.82 106.97 L422.09 108.05 L423.36 109.12 L424.61 110.18 L425.82 111.20 L427.00 112.20 L428.13 113.16 L429.23 114.09 L430.30 114.99 L431.34 115.88 L432.38 116.75 L433.41 117.63 L434.45 118.51 L435.50 119.40 L436.54 120.28 L437.55 121.14 L438.55 121.99 L439.56 122.84 L440.59 123.71 L441.66 124.62 L442.79 125.58 L444.00 126.60 L445.30 127.70 L446.68 128.87 L448.12 130.08 L449.61 131.34 L451.11 132.61 L452.63 133.89 L454.13 135.16 L455.60 136.40 L457.05 137.62 L458.50 138.85 L459.95 140.08 L461.40 141.30 L462.85 142.53 L464.30 143.75 L465.75 144.97 L467.20 146.20 L468.65 147.42 L470.10 148.65 L471.55 149.88 L473.00 151.10 L474.45 152.32 L475.90 153.55 L477.35 154.77 L478.80 156.00 L480.25 157.22 L481.70 158.45 L483.15 159.68 L484.60 160.90 L486.05 162.12 L487.50 163.35 L488.95 164.58 L490.40 165.80 L491.85 167.03 L493.31 168.26 L494.77 169.49 L496.22 170.72 L497.68 171.95 L499.13 173.17 L500.57 174.39 L502.00 175.60 L502.20 175.77" fill="none" stroke="#2ca02c" stroke-width="2.7" stroke-linejoin="round" />
<path d="M580.90 241.97 L582.18 243.04 L583.68 244.31 L585.19 245.59 L586.73 246.88 L588.26 248.18 L589.80 249.48 L591.34 250.78 L592.87 252.07 L594.39 253.35 L595.91 254.63 L597.43 255.92 L598.95 257.20 L600.47 258.48 L601.99 259.77 L603.51 261.05 L605.03 262.33 L606.62 263.67 L608.29 265.08 L610.01 266.53 L611.70 267.96 L613.32 269.33 L614.82 270.59 L616.13 271.69 L617.20 272.60 L618.00 273.28 L618.56 273.75 L618.94 274.08 L619.19 274.29 L619.36 274.45 L619.52 274.58 L619.71 274.75 L620.00 275.00" fill="none" stroke="#2ca02c" stroke-width="2.7" stroke-linejoin="round" />
<path d="M365.60 64.50 L365.76 64.74 L365.90 64.95 L366.03 65.15 L366.16 65.36 L366.31 65.59 L366.50 65.86 L366.72 66.19 L367.00 66.60 L367.34 67.10 L367.73 67.67 L368.15 68.31 L368.61 68.99 L369.09 69.69 L369.59 70.41 L370.10 71.11 L370.60 71.80 L371.07 72.43 L371.50 73.02 L371.92 73.59 L372.36 74.17 L372.86 74.80 L373.45 75.51 L374.15 76.33 L375.00 77.30 L376.05 78.47 L377.29 79.83 L378.66 81.32 L380.12 82.88 L381.59 84.46 L383.03 85.97 L384.39 87.38 L385.60 88.60 L386.67 89.65 L387.67 90.57 L388.59 91.40 L389.48 92.17 L390.34 92.90 L391.19 93.62 L392.05 94.36 L392.95 95.15 L393.86 95.97 L394.77 96.79 L395.68 97.60 L396.58 98.42 L397.50 99.24 L398.42 100.06 L399.35 100.88 L400.30 101.70 L401.27 102.53 L402.25 103.36 L403.25 104.19 L404.26 105.02 L405.27 105.85 L406.28 106.69 L407.30 107.52 L408.30 108.35 L409.30 109.18 L410.31 110.02 L411.32 110.86 L412.32 111.70 L413.33 112.53 L414.32 113.36 L415.32 114.19 L416.30 115.00 L417.27 115.80 L418.24 116.60 L419.19 117.39 L420.15 118.17 L421.10 118.95 L422.05 119.73 L423.00 120.51 L423.95 121.30 L424.88 122.07 L425.79 122.81 L426.68 123.54 L427.58 124.27 L428.50 125.03 L429.47 125.83 L430.49 126.68 L431.60 127.60 L432.80 128.60 L434.08 129.68 L435.42 130.81 L436.80 131.98 L438.21 133.17 L439.63 134.37 L441.03 135.56 L442.40 136.72 L443.75 137.86 L445.10 139.00 L446.45 140.14 L447.80 141.28 L449.15 142.41 L450.50 143.55 L451.85 144.69 L453.20 145.83 L454.55 146.97 L455.90 148.11 L457.25 149.25 L458.60 150.39 L459.95 151.53 L461.30 152.67 L462.65 153.81 L464.00 154.95 L465.35 156.09 L466.70 157.23 L468.05 158.37 L469.40 159.51 L470.75 160.65 L472.10 161.79 L473.45 162.93 L474.80 164.07 L476.15 165.21 L477.50 166.35 L478.85 167.49 L480.20 168.62 L481.55 169.76 L482.90 170.90 L484.25 172.04 L485.60 173.18 L486.95 174.32 L488.29 175.45 L489.63 176.59 L490.98 177.72 L492.32 178.86 L493.67 180.00 L495.03 181.14 L496.40 182.30 L496.40 182.30" fill="none" stroke="#2ca02c" stroke-width="2.7" stroke-linejoin="round" />
<path d="M574.70 248.50 L574.70 248.50 L576.11 249.67 L577.52 250.84 L578.94 252.00 L580.35 253.16 L581.77 254.32 L583.19 255.48 L584.61 256.64 L586.03 257.80 L587.44 258.96 L588.86 260.12 L590.27 261.29 L591.69 262.45 L593.10 263.61 L594.52 264.78 L595.93 265.94 L597.35 267.10 L598.77 268.26 L600.18 269.43 L601.60 270.59 L603.01 271.75 L604.43 272.91 L605.84 274.07 L607.26 275.24 L608.67 276.40 L610.09 277.56 L611.51 278.72 L612.92 279.89 L614.34 281.05 L615.75 282.21 L617.17 283.37 L618.58 284.54 L620.00 285.70" fill="none" stroke="#2ca02c" stroke-width="2.7" stroke-linejoin="round" />
<path d="M490.20 64.50 L493.00 66.95 L502.50 75.04" fill="none" stroke="#2ca02c" stroke-width="2.7" stroke-linejoin="round" />
<path d="M581.00 141.03 L581.20 141.20 L617.20 171.30 L620.00 173.60" fill="none" stroke="#2ca02c" stroke-width="2.7" stroke-linejoin="round" />
<path d="M481.80 64.50 L484.70 66.95 L494.60 75.30 L494.70 75.38" fill="none" stroke="#2ca02c" stroke-width="2.7" stroke-linejoin="round" />
<path d="M572.90 141.20 L572.90 141.20 L617.20 178.40 L620.00 180.80" fill="none" stroke="#2ca02c" stroke-width="2.7" stroke-linejoin="round" />
<path d="M98.1 152.35 L618.2 152.35" stroke="#2ca02c" stroke-width="2.6" stroke-dasharray="8.72 3.77" fill="none"/>
<text transform="translate(386.3 309.7) rotate(40.0)" x="-5.70" y="6.65" font-family='"Liberation Serif", serif' font-weight="bold" font-size="20.0" fill="#2ca02c" stroke="#2ca02c" stroke-width="1.3" stroke-linejoin="miter">+</text>
<text transform="translate(438.3 324.0) rotate(40.0)" x="-5.70" y="6.65" font-family='"Liberation Serif", serif' font-weight="bold" font-size="20.0" fill="#2ca02c" stroke="#2ca02c" stroke-width="1.3" stroke-linejoin="miter">+</text>
<g transform="translate(508.8 74.9) rotate(40.0)" fill="#2ca02c" font-family='"Liberation Serif", serif' font-weight="bold"><text x="0" y="0" font-size="16.0" stroke="#d5ecd5" stroke-width="0.18" textLength="86.0" lengthAdjust="spacingAndGlyphs">BabyIAXO</text><text x="86.4" y="4.5" font-size="14.7" textLength="8.4" lengthAdjust="spacingAndGlyphs">0</text></g>
<g transform="translate(490.8 86.3) rotate(40.0)" fill="#2ca02c" font-family='"Liberation Serif", serif' font-weight="bold"><text x="0" y="0" font-size="16.0" stroke="#d5ecd5" stroke-width="0.18" textLength="86.0" lengthAdjust="spacingAndGlyphs">BabyIAXO</text><text x="86.4" y="4.5" font-size="14.7" textLength="8.4" lengthAdjust="spacingAndGlyphs">1</text></g>
<g transform="translate(509.0 174.4) rotate(40.0)" fill="#2ca02c" font-family='"Liberation Serif", serif' font-weight="bold"><text x="0" y="0" font-size="16.0" stroke="#d5ecd5" stroke-width="0.18" textLength="86.0" lengthAdjust="spacingAndGlyphs">BabyIAXO</text><text x="86.4" y="4.5" font-size="14.7" textLength="8.4" lengthAdjust="spacingAndGlyphs">3</text></g>
<g transform="translate(492.5 193.7) rotate(40.0)" fill="#2ca02c" font-family='"Liberation Serif", serif' font-weight="bold"><text x="0" y="0" font-size="16.0" stroke="#d5ecd5" stroke-width="0.18" textLength="86.0" lengthAdjust="spacingAndGlyphs">BabyIAXO</text><text x="86.4" y="4.5" font-size="14.7" textLength="8.4" lengthAdjust="spacingAndGlyphs">2</text></g>
<g transform="translate(368.2 246.6) rotate(40.0)" fill="#2ca02c" font-family='"Liberation Serif", serif' font-weight="normal"><text x="0" y="0" font-size="16.5" stroke="#2ca02c" stroke-width="0.35" textLength="47" lengthAdjust="spacingAndGlyphs">IAXO</text><text x="47.6" y="5.0" font-size="14.5" stroke="#2ca02c" stroke-width="0.35" textLength="8.0" lengthAdjust="spacingAndGlyphs">b</text></g>
<g transform="translate(418.2 267.6) rotate(40.0)" fill="#2ca02c" font-family='"Liberation Serif", serif' font-weight="normal"><text x="0" y="0" font-size="16.5" stroke="#2ca02c" stroke-width="0.35" textLength="47" lengthAdjust="spacingAndGlyphs">IAXO</text><text x="48.2" y="2.2" font-size="14.5" stroke="#2ca02c" stroke-width="0.35" textLength="5.6" lengthAdjust="spacingAndGlyphs">r</text></g>
<g transform="translate(338.7 283.6) rotate(40.0)" fill="#2ca02c" font-family='"Liberation Serif", serif' font-weight="normal"><text x="0" y="0" font-size="16.5" stroke="#2ca02c" stroke-width="0.35" textLength="47.5" lengthAdjust="spacingAndGlyphs">IAXO</text><text x="48.1" y="8.0" font-size="14.5" stroke="#2ca02c" stroke-width="0.35" textLength="8.0" lengthAdjust="spacingAndGlyphs">b</text></g>
<g transform="translate(392.0 299.4) rotate(40.0)" fill="#2ca02c" font-family='"Liberation Serif", serif' font-weight="normal"><text x="0" y="0" font-size="16.5" stroke="#2ca02c" stroke-width="0.35" textLength="47" lengthAdjust="spacingAndGlyphs">IAXO</text><text x="48.2" y="2.5" font-size="14.5" stroke="#2ca02c" stroke-width="0.35" textLength="5.6" lengthAdjust="spacingAndGlyphs">r</text></g>
</g>
<path d="M617.2 64.95 L684.2 64.95 L684.2 442.5 L617.2 442.5 Z" fill="#b22222"/>
<path d="M98.1 2.55 L684.2 2.55 L684.2 120.96 L620.0 66.95 L98.1 66.95 Z" fill="#4682b4"/>
<rect x="98.1" y="2.55" width="586.1" height="439.95" fill="none" stroke="#000" stroke-width="1.25"/>
<path d="M98.10 442.5 v5.3" stroke="#000" stroke-width="1.2"/>
<path d="M145.80 442.5 v3.3" stroke="#000" stroke-width="1.0"/>
<path d="M173.70 442.5 v3.3" stroke="#000" stroke-width="1.0"/>
<path d="M193.50 442.5 v3.3" stroke="#000" stroke-width="1.0"/>
<path d="M208.85 442.5 v3.3" stroke="#000" stroke-width="1.0"/>
<path d="M221.40 442.5 v3.3" stroke="#000" stroke-width="1.0"/>
<path d="M232.01 442.5 v3.3" stroke="#000" stroke-width="1.0"/>
<path d="M241.19 442.5 v3.3" stroke="#000" stroke-width="1.0"/>
<path d="M249.30 442.5 v3.3" stroke="#000" stroke-width="1.0"/>
<path d="M256.55 442.5 v5.3" stroke="#000" stroke-width="1.2"/>
<path d="M304.25 442.5 v3.3" stroke="#000" stroke-width="1.0"/>
<path d="M332.15 442.5 v3.3" stroke="#000" stroke-width="1.0"/>
<path d="M351.95 442.5 v3.3" stroke="#000" stroke-width="1.0"/>
<path d="M367.30 442.5 v3.3" stroke="#000" stroke-width="1.0"/>
<path d="M379.85 442.5 v3.3" stroke="#000" stroke-width="1.0"/>
<path d="M390.45 442.5 v3.3" stroke="#000" stroke-width="1.0"/>
<path d="M399.64 442.5 v3.3" stroke="#000" stroke-width="1.0"/>
<path d="M407.75 442.5 v3.3" stroke="#000" stroke-width="1.0"/>
<path d="M415.00 442.5 v5.3" stroke="#000" stroke-width="1.2"/>
<path d="M462.70 442.5 v3.3" stroke="#000" stroke-width="1.0"/>
<path d="M490.60 442.5 v3.3" stroke="#000" stroke-width="1.0"/>
<path d="M510.40 442.5 v3.3" stroke="#000" stroke-width="1.0"/>
<path d="M525.75 442.5 v3.3" stroke="#000" stroke-width="1.0"/>
<path d="M538.30 442.5 v3.3" stroke="#000" stroke-width="1.0"/>
<path d="M548.90 442.5 v3.3" stroke="#000" stroke-width="1.0"/>
<path d="M558.09 442.5 v3.3" stroke="#000" stroke-width="1.0"/>
<path d="M566.20 442.5 v3.3" stroke="#000" stroke-width="1.0"/>
<path d="M573.45 442.5 v5.3" stroke="#000" stroke-width="1.2"/>
<path d="M621.15 442.5 v3.3" stroke="#000" stroke-width="1.0"/>
<path d="M649.05 442.5 v3.3" stroke="#000" stroke-width="1.0"/>
<path d="M668.84 442.5 v3.3" stroke="#000" stroke-width="1.0"/>
<path d="M684.20 442.5 v3.3" stroke="#000" stroke-width="1.0"/>
<path d="M98.1 442.50 h-5.3" stroke="#000" stroke-width="1.2"/>
<path d="M98.1 402.38 h-3.3" stroke="#000" stroke-width="1.0"/>
<path d="M98.1 378.91 h-3.3" stroke="#000" stroke-width="1.0"/>
<path d="M98.1 362.26 h-3.3" stroke="#000" stroke-width="1.0"/>
<path d="M98.1 349.34 h-3.3" stroke="#000" stroke-width="1.0"/>
<path d="M98.1 338.79 h-3.3" stroke="#000" stroke-width="1.0"/>
<path d="M98.1 329.87 h-3.3" stroke="#000" stroke-width="1.0"/>
<path d="M98.1 322.14 h-3.3" stroke="#000" stroke-width="1.0"/>
<path d="M98.1 315.32 h-3.3" stroke="#000" stroke-width="1.0"/>
<path d="M98.1 309.22 h-5.3" stroke="#000" stroke-width="1.2"/>
<path d="M98.1 269.10 h-3.3" stroke="#000" stroke-width="1.0"/>
<path d="M98.1 245.63 h-3.3" stroke="#000" stroke-width="1.0"/>
<path d="M98.1 228.98 h-3.3" stroke="#000" stroke-width="1.0"/>
<path d="M98.1 216.07 h-3.3" stroke="#000" stroke-width="1.0"/>
<path d="M98.1 205.51 h-3.3" stroke="#000" stroke-width="1.0"/>
<path d="M98.1 196.59 h-3.3" stroke="#000" stroke-width="1.0"/>
<path d="M98.1 188.86 h-3.3" stroke="#000" stroke-width="1.0"/>
<path d="M98.1 182.05 h-3.3" stroke="#000" stroke-width="1.0"/>
<path d="M98.1 175.95 h-5.3" stroke="#000" stroke-width="1.2"/>
<path d="M98.1 135.83 h-3.3" stroke="#000" stroke-width="1.0"/>
<path d="M98.1 112.36 h-3.3" stroke="#000" stroke-width="1.0"/>
<path d="M98.1 95.71 h-3.3" stroke="#000" stroke-width="1.0"/>
<path d="M98.1 82.79 h-3.3" stroke="#000" stroke-width="1.0"/>
<path d="M98.1 72.24 h-3.3" stroke="#000" stroke-width="1.0"/>
<path d="M98.1 63.32 h-3.3" stroke="#000" stroke-width="1.0"/>
<path d="M98.1 55.59 h-3.3" stroke="#000" stroke-width="1.0"/>
<path d="M98.1 48.77 h-3.3" stroke="#000" stroke-width="1.0"/>
<path d="M98.1 42.67 h-5.3" stroke="#000" stroke-width="1.2"/>
<path d="M98.1 2.55 h-3.3" stroke="#000" stroke-width="1.0"/>
<g font-family='"Liberation Serif", serif' fill="#000"><text x="77.70" y="468.60" font-size="23.2" textLength="21.0" lengthAdjust="spacingAndGlyphs">10</text><text x="99.00" y="461.60" font-size="16.0" textLength="12.4" lengthAdjust="spacingAndGlyphs">−</text><text x="111.60" y="460.90" font-size="16.0" textLength="7.65" lengthAdjust="spacingAndGlyphs">9</text></g>
<g font-family='"Liberation Serif", serif' fill="#000"><text x="236.15" y="468.60" font-size="23.2" textLength="21.0" lengthAdjust="spacingAndGlyphs">10</text><text x="257.45" y="461.60" font-size="16.0" textLength="12.4" lengthAdjust="spacingAndGlyphs">−</text><text x="270.05" y="460.90" font-size="16.0" textLength="7.65" lengthAdjust="spacingAndGlyphs">8</text></g>
<g font-family='"Liberation Serif", serif' fill="#000"><text x="394.60" y="468.60" font-size="23.2" textLength="21.0" lengthAdjust="spacingAndGlyphs">10</text><text x="415.90" y="461.60" font-size="16.0" textLength="12.4" lengthAdjust="spacingAndGlyphs">−</text><text x="428.50" y="460.90" font-size="16.0" textLength="7.65" lengthAdjust="spacingAndGlyphs">7</text></g>
<g font-family='"Liberation Serif", serif' fill="#000"><text x="553.05" y="468.60" font-size="23.2" textLength="21.0" lengthAdjust="spacingAndGlyphs">10</text><text x="574.35" y="461.60" font-size="16.0" textLength="12.4" lengthAdjust="spacingAndGlyphs">−</text><text x="586.95" y="460.90" font-size="16.0" textLength="7.65" lengthAdjust="spacingAndGlyphs">6</text></g>
<g font-family='"Liberation Serif", serif' fill="#000"><text x="37.80" y="50.77" font-size="23.2" textLength="21.0" lengthAdjust="spacingAndGlyphs">10</text><text x="59.10" y="43.77" font-size="16.0" textLength="12.4" lengthAdjust="spacingAndGlyphs">−</text><text x="71.70" y="43.07" font-size="16.0" textLength="15.30" lengthAdjust="spacingAndGlyphs">10</text></g>
<g font-family='"Liberation Serif", serif' fill="#000"><text x="37.80" y="184.05" font-size="23.2" textLength="21.0" lengthAdjust="spacingAndGlyphs">10</text><text x="59.10" y="177.05" font-size="16.0" textLength="12.4" lengthAdjust="spacingAndGlyphs">−</text><text x="71.70" y="176.35" font-size="16.0" textLength="15.30" lengthAdjust="spacingAndGlyphs">11</text></g>
<g font-family='"Liberation Serif", serif' fill="#000"><text x="37.80" y="317.32" font-size="23.2" textLength="21.0" lengthAdjust="spacingAndGlyphs">10</text><text x="59.10" y="310.32" font-size="16.0" textLength="12.4" lengthAdjust="spacingAndGlyphs">−</text><text x="71.70" y="309.62" font-size="16.0" textLength="15.30" lengthAdjust="spacingAndGlyphs">12</text></g>
<g font-family='"Liberation Serif", serif' fill="#000"><text x="37.80" y="450.60" font-size="23.2" textLength="21.0" lengthAdjust="spacingAndGlyphs">10</text><text x="59.10" y="443.60" font-size="16.0" textLength="12.4" lengthAdjust="spacingAndGlyphs">−</text><text x="71.70" y="442.90" font-size="16.0" textLength="15.30" lengthAdjust="spacingAndGlyphs">13</text></g>
<text x="352.6" y="43.0" font-family='"Liberation Serif", serif' font-size="33" fill="#fff" stroke="#4682b4" stroke-width="0.45" textLength="77.5" lengthAdjust="spacingAndGlyphs">CAST</text>
<text transform="translate(658.2 330.2) rotate(-90)" font-family='"Liberation Serif", serif' font-size="30" fill="#fff" stroke="#b22222" stroke-width="0.4" textLength="152" lengthAdjust="spacingAndGlyphs">Solar Cooling</text>
<path d="M113.4 417.2 H147.4" stroke="#2ca02c" stroke-width="2.6" stroke-dasharray="8.72 3.77" fill="none"/>
<text y="423.6" font-family='"Liberation Serif", serif' font-size="16.8" fill="#000"><tspan x="162.6" textLength="83.0" lengthAdjust="spacingAndGlyphs">BabyIAXO</tspan> <tspan x="253.2" textLength="71.2" lengthAdjust="spacingAndGlyphs">Primakoff</tspan></text>
<g transform="translate(24.0 294.6) rotate(-90)" font-family='"Liberation Serif", serif' fill="#000"><text x="-1.45" y="0" font-size="31.4" textLength="4.7" lengthAdjust="spacingAndGlyphs">|</text><text x="4.6" y="0" font-size="27" font-style="italic" textLength="13.8" lengthAdjust="spacingAndGlyphs">g</text><text x="20.2" y="1.4" font-size="19.5" font-style="italic" textLength="9.8" lengthAdjust="spacingAndGlyphs">a</text><text x="29.4" y="4.6" font-size="20" font-style="italic" textLength="10.8" lengthAdjust="spacingAndGlyphs">γ</text><text x="41.45" y="0" font-size="31.4" textLength="4.7" lengthAdjust="spacingAndGlyphs">|</text><text x="59.00" y="1.8" font-size="33.7" textLength="4.5" lengthAdjust="spacingAndGlyphs">[</text><text x="63.6" y="0" font-size="31.2" textLength="51.0" lengthAdjust="spacingAndGlyphs">GeV</text><text x="116.0" y="-9.6" font-size="19" textLength="12.8" lengthAdjust="spacingAndGlyphs">−</text><text x="129.8" y="-10.8" font-size="19.5">1</text><text x="140.80" y="1.8" font-size="33.7" textLength="4.5" lengthAdjust="spacingAndGlyphs">]</text></g>
<g transform="translate(366.6 503.2)" font-family='"Liberation Serif", serif' fill="#000"><text x="-1.75" y="0" font-size="31.4" textLength="4.7" lengthAdjust="spacingAndGlyphs">|</text><text x="3.8" y="0" font-size="27" font-style="italic" textLength="13.6" lengthAdjust="spacingAndGlyphs">g</text><text x="18.6" y="-10.4" font-size="19.5" textLength="19.2" lengthAdjust="spacingAndGlyphs">eff</text><text x="17.6" y="7.0" font-size="19.5" font-style="italic" textLength="27.2" lengthAdjust="spacingAndGlyphs">aN</text><text x="46.45" y="0" font-size="31.4" textLength="4.7" lengthAdjust="spacingAndGlyphs">|</text></g>
</svg>
</body></html>
